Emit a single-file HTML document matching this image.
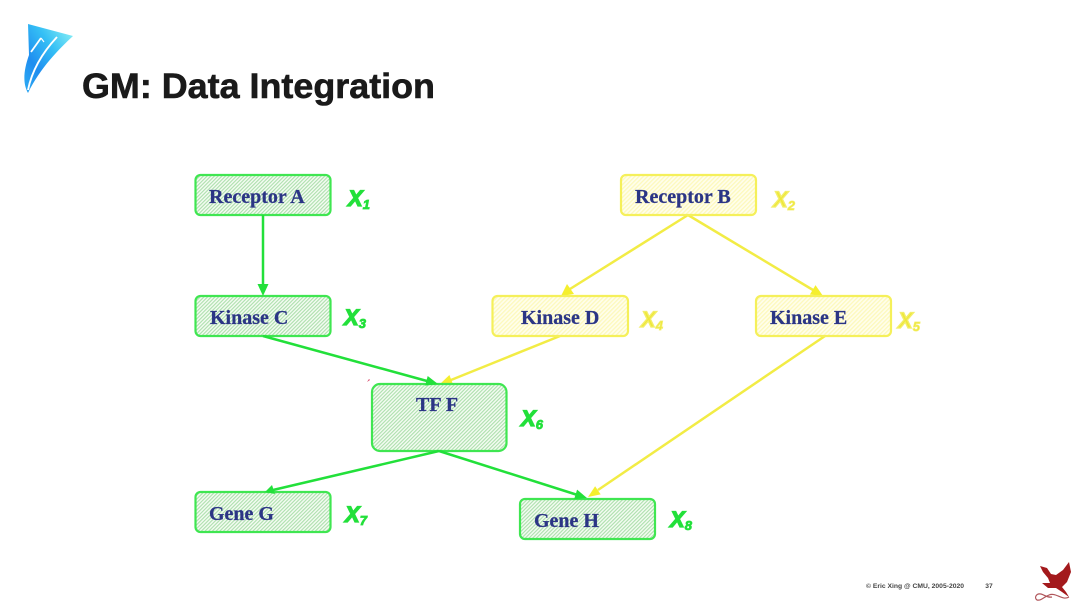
<!DOCTYPE html>
<html>
<head>
<meta charset="utf-8">
<style>
html,body{margin:0;padding:0;background:#fff;width:1080px;height:608px;overflow:hidden}
svg{display:block;filter:blur(0.3px)}
.t{font-family:"Liberation Serif",serif;font-weight:bold;font-size:20px;fill:#2b3585;stroke:#2b3585;stroke-width:0.25px}
.x{font-family:"Liberation Sans",sans-serif;font-weight:bold;font-style:italic;font-size:22px;stroke-width:1.300px}
.s{font-size:13px;stroke-width:0.800px}
.g{fill:#22e03a;stroke:#22e03a}
.y{fill:#eee838;stroke:#f3ee6a}
</style>
</head>
<body>
<svg width="1080" height="608" viewBox="0 0 1080 608" xmlns="http://www.w3.org/2000/svg">
<defs>
<pattern id="hg" width="2.600" height="2.600" patternUnits="userSpaceOnUse" patternTransform="rotate(45)">
<rect width="2.600" height="2.600" fill="#f4fcf2"/>
<rect width="1.100" height="2.600" fill="#addfad"/>
</pattern>
<pattern id="hy" width="3" height="3" patternUnits="userSpaceOnUse" patternTransform="rotate(45)">
<rect width="3" height="3" fill="#fffeec"/>
<rect width="1.300" height="3" fill="#fdf9bc"/>
</pattern>
<linearGradient id="lg" x1="0.9" y1="0.1" x2="0.1" y2="0.9">
<stop offset="0" stop-color="#7ce8f5"/>
<stop offset="0.35" stop-color="#35c0f5"/>
<stop offset="0.75" stop-color="#1f8df0"/>
<stop offset="1" stop-color="#2aa4f2"/>
</linearGradient>
</defs>

<!-- logo -->
<path d="M28 24 L73 36 C60 48 40 68 28 93 C23 84 23 72 29 55 Z" fill="url(#lg)"/>
<path d="M41 38 L31 52" stroke="#fff" stroke-width="1.800" fill="none"/>
<path d="M41 38 L44 42" stroke="#fff" stroke-width="1.200" fill="none"/>
<path d="M57 37 C43 52 32 70 28 90" stroke="#fff" stroke-width="1.900" fill="none"/>

<text x="82" y="98" font-family="'Liberation Sans',sans-serif" font-weight="bold" font-size="35" fill="#1a1a1a" stroke="#1a1a1a" stroke-width="0.6" textLength="353" lengthAdjust="spacingAndGlyphs">GM: Data Integration</text>

<!-- yellow connectors -->
<g stroke="#f2ec45" stroke-width="2.500" fill="none">
<line x1="688" y1="215" x2="570" y2="289"/>
<line x1="688" y1="215" x2="813" y2="290"/>
<line x1="560" y1="336" x2="451" y2="380"/>
<line x1="825" y1="336" x2="598" y2="490"/>
</g>
<g fill="#f5ef2e">
<polygon points="561,296 567,284 574,294"/>
<polygon points="823,296 809.900,294.500 815.500,285.100"/>
<polygon points="440,384 453,384.200 449.400,375"/>
<polygon points="588,497 600.700,494.400 595.100,486.200"/>
</g>

<!-- boxes -->
<g stroke="#3fe651" stroke-width="2.200" fill="url(#hg)">
<rect x="195.500" y="175" width="135" height="40" rx="5"/>
<rect x="195.500" y="296" width="135" height="40" rx="5"/>
<rect x="372" y="384" width="134.500" height="67" rx="8"/>
<rect x="195.500" y="492" width="135" height="40" rx="5"/>
<rect x="520" y="499" width="135" height="40" rx="5"/>
</g>
<g stroke="#f5f05a" stroke-width="2.200" fill="url(#hy)">
<rect x="621" y="175" width="135" height="40" rx="5"/>
<rect x="492.500" y="296" width="135.500" height="40" rx="5"/>
<rect x="756" y="296" width="135" height="40" rx="5"/>
</g>

<!-- green connectors -->
<g stroke="#22e03a" stroke-width="2.500" fill="none">
<line x1="263" y1="215" x2="263" y2="285"/>
<line x1="263" y1="336" x2="427" y2="381"/>
<line x1="439" y1="451" x2="273" y2="490"/>
<line x1="439" y1="451" x2="576" y2="494.500"/>
</g>
<g fill="#22e03a">
<polygon points="263,296 257.500,284 268.500,284"/>
<polygon points="438,384 425.100,385.600 427.700,376"/>
<polygon points="265,492 272,485 275,494"/>
<polygon points="587,498 574.100,499.200 577.100,489.600"/>
</g>
<polygon points="367,382 369,379 370,380" fill="#d9486a"/>

<!-- labels -->
<text class="t" x="209" y="203">Receptor A</text>
<text class="t" x="635" y="203">Receptor B</text>
<text class="t" x="210" y="324">Kinase C</text>
<text class="t" x="521" y="324">Kinase D</text>
<text class="t" x="770" y="324">Kinase E</text>
<text class="t" x="416" y="411">TF F</text>
<text class="t" x="209" y="520">Gene G</text>
<text class="t" x="534" y="527">Gene H</text>

<text class="x g" x="348" y="206">X<tspan class="s" dy="3">1</tspan></text>
<text class="x y" x="773" y="207">X<tspan class="s" dy="3">2</tspan></text>
<text class="x g" x="344" y="325">X<tspan class="s" dy="3">3</tspan></text>
<text class="x y" x="641" y="327">X<tspan class="s" dy="3">4</tspan></text>
<text class="x y" x="898" y="328">X<tspan class="s" dy="3">5</tspan></text>
<text class="x g" x="521" y="426">X<tspan class="s" dy="3">6</tspan></text>
<text class="x g" x="345" y="522">X<tspan class="s" dy="3">7</tspan></text>
<text class="x g" x="670" y="527">X<tspan class="s" dy="3">8</tspan></text>

<!-- footer -->
<text x="866" y="588" font-family="'Liberation Sans',sans-serif" font-weight="bold" font-size="6.700" fill="#444" textLength="98" lengthAdjust="spacingAndGlyphs">© Eric Xing @ CMU, 2005-2020</text>
<text x="989" y="588" text-anchor="middle" font-family="'Liberation Sans',sans-serif" font-weight="bold" font-size="6.700" fill="#444">37</text>

<!-- dragon -->
<path d="M1040 566 L1047 568 L1051 574 L1056 575 L1063 570 L1069 562 L1071 572 L1067 582 L1062 587 L1066 592 L1069 597 L1062 592 L1056 588 L1048 588 L1042 583 L1050 583 L1048 578 L1043 572 Z" fill="#a3191c"/>
<path d="M1069 597 C1062 601 1056 592 1049 595 C1044 597 1041 601 1037 600 C1034 598 1036 593 1041 594 C1045 595 1047 598 1052 597" stroke="#b0555a" stroke-width="1.200" fill="none"/>
</svg>
</body>
</html>
